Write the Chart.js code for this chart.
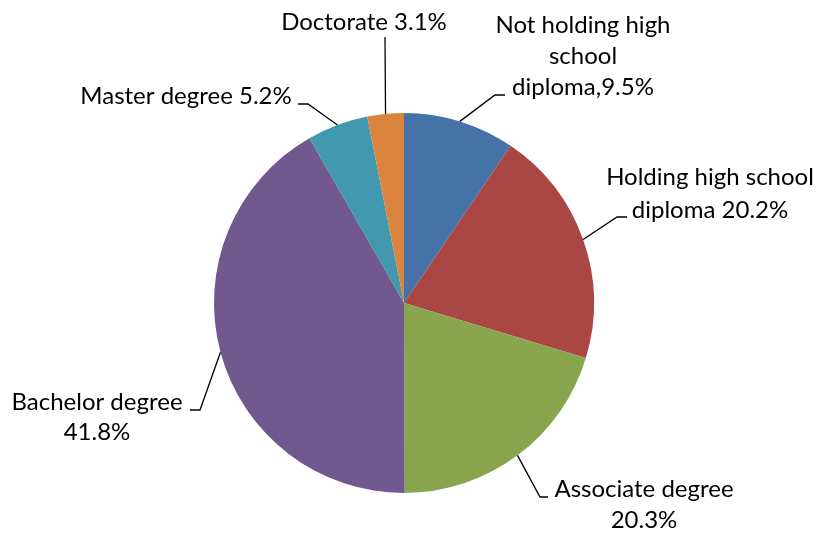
<!DOCTYPE html>
<html>
<head>
<meta charset="utf-8">
<script src="https://cdn.jsdelivr.net/npm/chart.js@4"></script>
<style>
  html, body { margin: 0; padding: 0; background: #fff; }
  #wrap { width: 820px; height: 533px; }
</style>
</head>
<body>
<div id="wrap"><canvas id="eduChart" width="820" height="533"></canvas></div>
<script>
const categories = ['Not holding high school diploma', 'Holding high school diploma', 'Associate degree',
    'Bachelor degree', 'Master degree', 'Doctorate'];
const shares = [9.5, 20.2, 20.3, 41.8, 5.2, 3.1];
// label text as shown, {v} is replaced by the share
const labelText = [
    ['Not holding high', 'school', 'diploma,{v}%'],
    ['Holding high school', 'diploma {v}%'],
    ['Associate degree', '{v}%'],
    ['Bachelor degree', '{v}%'],
    ['Master degree {v}%'],
    ['Doctorate {v}%']
];
const sliceColors = ['#4572A7', '#AA4643', '#89A54E', '#71588F', '#4198AF', '#DB843D'];

// where each label sits and where its leader line bends
const labelLayout = [
    { x: 583, base: [33, 64, 95], elbow: [495, 95], end: [505, 95] },
    { x: 710, base: [185, 218], elbow: [617, 217], end: [627, 217] },
    { x: 644, base: [497, 528], elbow: [540, 497], end: [548, 497] },
    { x: 97, base: [410, 440], elbow: [200, 410], end: [190, 410] },
    { x: 186, base: [104], elbow: [308, 104], end: [298, 104] },
    { x: 364, base: [30], elbow: [385, 37], end: [385, 37] }
];

const FONT = '24px Lato';

const leaderLabels = {
    id: 'leaderLabels',
    afterDatasetsDraw(chart) {
        const ctx = chart.ctx;
        const arcs = chart.getDatasetMeta(0).data;
        ctx.save();
        ctx.strokeStyle = '#000';
        ctx.lineWidth = 1.3;
        ctx.fillStyle = '#000';
        ctx.font = FONT;
        ctx.textAlign = 'center';
        ctx.textBaseline = 'alphabetic';
        arcs.forEach((arc, i) => {
            const p = arc.getProps(['x', 'y', 'startAngle', 'endAngle', 'outerRadius'], true);
            const mid = (p.startAngle + p.endAngle) / 2;
            const sx = p.x + Math.cos(mid) * p.outerRadius;
            const sy = p.y + Math.sin(mid) * p.outerRadius;
            const lay = labelLayout[i];
            ctx.beginPath();
            ctx.moveTo(sx, sy);
            ctx.lineTo(lay.elbow[0], lay.elbow[1]);
            ctx.lineTo(lay.end[0], lay.end[1]);
            ctx.stroke();
            labelText[i].forEach((line, k) => {
                ctx.fillText(line.replace('{v}', shares[i]), lay.x, lay.base[k]);
            });
        });
        ctx.restore();
    }
};

const chart = new Chart(document.getElementById('eduChart').getContext('2d'), {
    type: 'pie',
    data: {
        labels: categories,
        datasets: [{
            data: shares,
            backgroundColor: sliceColors,
            borderWidth: 0
        }]
    },
    options: {
        responsive: false,
        animation: false,
        layout: { padding: { top: 113, bottom: 40, left: 214, right: 226 } },
        plugins: {
            legend: { display: false },
            tooltip: { enabled: false }
        }
    },
    plugins: [leaderLabels]
});
</script>
</body>
</html>
